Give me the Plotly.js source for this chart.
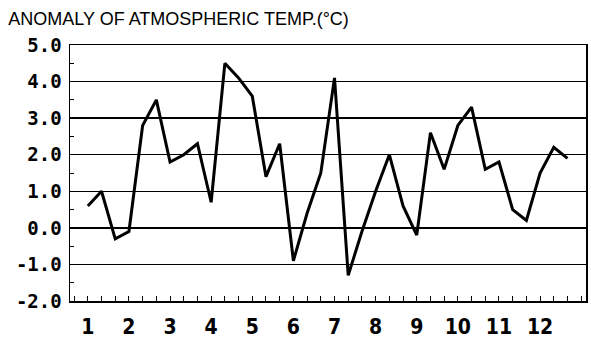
<!DOCTYPE html>
<html>
<head>
<meta charset="utf-8">
<script src="https://cdn.plot.ly/plotly-3.0.1.min.js"></script>
<style>html,body{margin:0;padding:0;background:#fff;}#chart{width:591px;height:338px;}</style>
</head>
<body>
<div id="chart"></div>
<script>
// Anomaly per dekad (3 per month), Jan..Dec
const anomaly = [0.6, 1.0, -0.3, -0.1, 2.8, 3.5, 1.8, 2.0, 2.3, 0.7, 4.5, 4.1,
                 3.6, 1.4, 2.3, -0.9, 0.4, 1.5, 4.1, -1.3, -0.1, 1.0, 2.0, 0.6,
                 -0.2, 2.6, 1.6, 2.8, 3.3, 1.6, 1.8, 0.5, 0.2, 1.5, 2.2, 1.9];
const dekadIndex = anomaly.map((v, i) => i);
const monthTickVals = [0, 3, 6, 9, 12, 15, 18, 21, 24, 27, 30, 33];
const monthLabels = ["1", "2", "3", "4", "5", "6", "7", "8", "9", "10", "11", "12"];
const yTickVals = [-2, -1, 0, 1, 2, 3, 4, 5];
const yTickText = ["-2.0", "-1.0", "0.0", "1.0", "2.0", "3.0", "4.0", "5.0"];
const titleText = "ANOMALY OF ATMOSPHERIC TEMP.(°C)";

const yTickFont = {family: "DejaVu Sans Mono, monospace", size: 19, color: "#000", weight: "bold"};
const xTickFont = {family: "Liberation Sans Narrow, DejaVu Sans Condensed, DejaVu Sans Mono, sans-serif", size: 21, color: "#000", weight: "bold"};

Plotly.newPlot("chart", [{
  x: dekadIndex, y: anomaly, type: "scatter", mode: "lines",
  line: {color: "#000", width: 3}, hoverinfo: "skip"
}], {
  width: 591, height: 338,
  margin: {l: 70, r: 5, t: 45, b: 37},
  paper_bgcolor: "#fff", plot_bgcolor: "#fff",
  showlegend: false,
  title: {text: titleText, x: 0.014, xanchor: "left", y: 0.945, yanchor: "middle",
          font: {family: "Liberation Sans, Arial, sans-serif", size: 18, color: "#000"}},
  xaxis: {
    range: [-1.3, 36.35], showgrid: false, zeroline: false,
    showline: true, linecolor: "#000", linewidth: 1.5, mirror: true,
    tickmode: "array", tickvals: monthTickVals, ticktext: monthLabels,
    ticks: "inside", ticklen: 5, tickcolor: "#000", tickwidth: 1,
    minor: {tickmode: "linear", tick0: 0, dtick: 1, ticks: "inside", ticklen: 5, tickcolor: "#000", tickwidth: 1, showgrid: false},
    tickfont: xTickFont, ticklabelstandoff: 6, fixedrange: true
  },
  yaxis: {
    range: [-2, 5], zeroline: false,
    showline: true, linecolor: "#000", linewidth: 1.5, mirror: true,
    showgrid: true, gridcolor: "#000", gridwidth: 1.5,
    tickmode: "array", tickvals: yTickVals, ticktext: yTickText,
    ticks: "inside", ticklen: 4, tickcolor: "#000",
    minor: {tickmode: "linear", tick0: 0.5, dtick: 1, ticks: "inside", ticklen: 4, tickcolor: "#000", showgrid: false},
    tickfont: yTickFont, ticklabelstandoff: 3, fixedrange: true
  }
}, {displayModeBar: false, staticPlot: true});
</script>
</body>
</html>
